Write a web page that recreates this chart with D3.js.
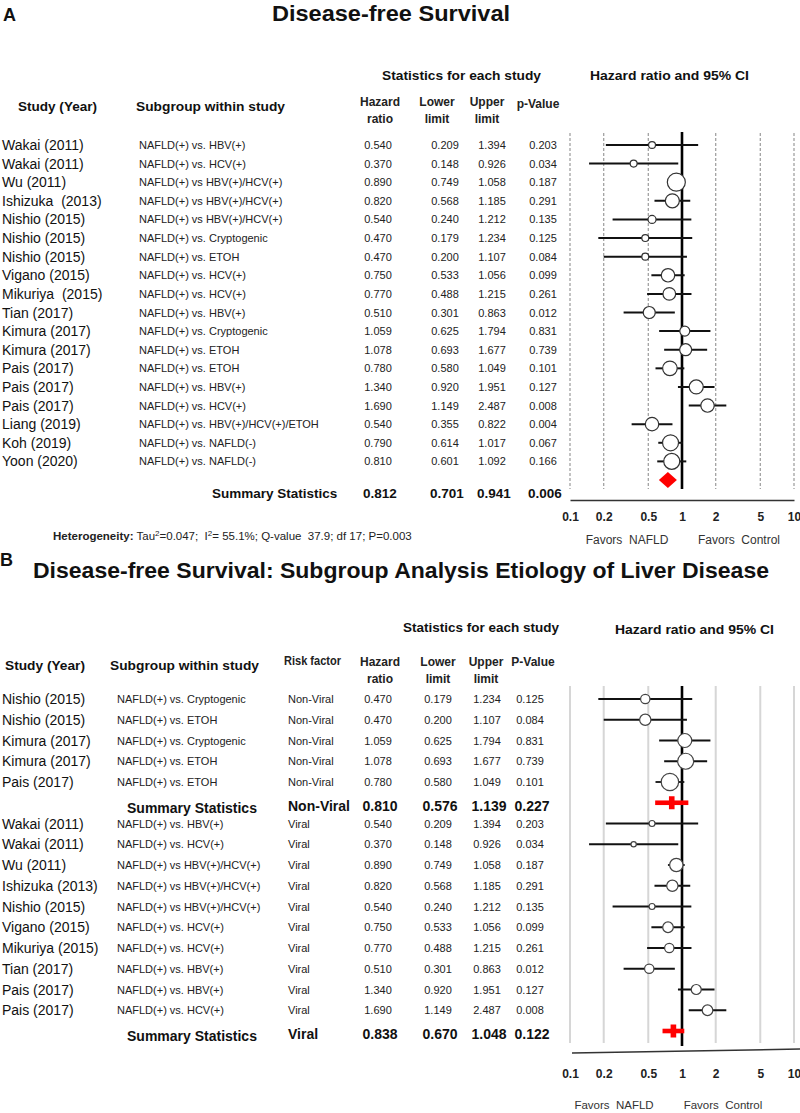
<!DOCTYPE html>
<html><head><meta charset="utf-8">
<script src="https://cdn.jsdelivr.net/npm/d3@7"></script>
<style>body{margin:0;background:#fff}text{white-space:pre}</style>
</head><body>
<svg id="chart" width="800" height="1113"></svg>
<script>
// ---------- Panel A data ----------
const studiesA = ["Wakai (2011)","Wakai (2011)","Wu (2011)","Ishizuka  (2013)","Nishio (2015)","Nishio (2015)","Nishio (2015)","Vigano (2015)","Mikuriya  (2015)","Tian (2017)","Kimura (2017)","Kimura (2017)","Pais (2017)","Pais (2017)","Pais (2017)","Liang (2019)","Koh (2019)","Yoon (2020)"];
const subgroupsA = ["NAFLD(+) vs. HBV(+)","NAFLD(+) vs. HCV(+)","NAFLD(+) vs HBV(+)/HCV(+)","NAFLD(+) vs HBV(+)/HCV(+)","NAFLD(+) vs HBV(+)/HCV(+)","NAFLD(+) vs. Cryptogenic","NAFLD(+) vs. ETOH","NAFLD(+) vs. HCV(+)","NAFLD(+) vs. HCV(+)","NAFLD(+) vs. HBV(+)","NAFLD(+) vs. Cryptogenic","NAFLD(+) vs. ETOH","NAFLD(+) vs. ETOH","NAFLD(+) vs. HBV(+)","NAFLD(+) vs. HCV(+)","NAFLD(+) vs. HBV(+)/HCV(+)/ETOH","NAFLD(+) vs. NAFLD(-)","NAFLD(+) vs. NAFLD(-)"];
const hrA    = [0.540,0.370,0.890,0.820,0.540,0.470,0.470,0.750,0.770,0.510,1.059,1.078,0.780,1.340,1.690,0.540,0.790,0.810];
const lowerA = [0.209,0.148,0.749,0.568,0.240,0.179,0.200,0.533,0.488,0.301,0.625,0.693,0.580,0.920,1.149,0.355,0.614,0.601];
const upperA = [1.394,0.926,1.058,1.185,1.212,1.234,1.107,1.056,1.215,0.863,1.794,1.677,1.049,1.951,2.487,0.822,1.017,1.092];
const pA     = [0.203,0.034,0.187,0.291,0.135,0.125,0.084,0.099,0.261,0.012,0.831,0.739,0.101,0.127,0.008,0.004,0.067,0.166];
const weightsA = [12,12,81,49,16,12,12,45,40,36,25,36,53,49,45,45,64,64];
const summaryA = [0.812,0.701,0.941,0.006]; // hr, lower, upper, p

// ---------- Panel B data ----------
const studiesB = ["Nishio (2015)","Nishio (2015)","Kimura (2017)","Kimura (2017)","Pais (2017)","Wakai (2011)","Wakai (2011)","Wu (2011)","Ishizuka (2013)","Nishio (2015)","Vigano (2015)","Mikuriya (2015)","Tian (2017)","Pais (2017)","Pais (2017)"];
const subgroupsB = ["NAFLD(+) vs. Cryptogenic","NAFLD(+) vs. ETOH","NAFLD(+) vs. Cryptogenic","NAFLD(+) vs. ETOH","NAFLD(+) vs. ETOH","NAFLD(+) vs. HBV(+)","NAFLD(+) vs. HCV(+)","NAFLD(+) vs HBV(+)/HCV(+)","NAFLD(+) vs HBV(+)/HCV(+)","NAFLD(+) vs HBV(+)/HCV(+)","NAFLD(+) vs. HCV(+)","NAFLD(+) vs. HCV(+)","NAFLD(+) vs. HBV(+)","NAFLD(+) vs. HBV(+)","NAFLD(+) vs. HCV(+)"];
const riskB = ["Non-Viral","Non-Viral","Non-Viral","Non-Viral","Non-Viral","Viral","Viral","Viral","Viral","Viral","Viral","Viral","Viral","Viral","Viral"];
const hrB    = [0.470,0.470,1.059,1.078,0.780,0.540,0.370,0.890,0.820,0.540,0.750,0.770,0.510,1.340,1.690];
const lowerB = [0.179,0.200,0.625,0.693,0.580,0.209,0.148,0.749,0.568,0.240,0.533,0.488,0.301,0.920,1.149];
const upperB = [1.234,1.107,1.794,1.677,1.049,1.394,0.926,1.058,1.185,1.212,1.056,1.215,0.863,1.951,2.487];
const pB     = [0.125,0.084,0.831,0.739,0.101,0.203,0.034,0.187,0.291,0.135,0.099,0.261,0.012,0.127,0.008];
const weightsB = [22,32,49,64,76,9,7,45,32,9,28,22,22,25,28];
const groupsB = ["Non-Viral","Viral"];
const summaryHrB = [0.810,0.838];
const summaryLoB = [0.576,0.670];
const summaryHiB = [1.139,1.048];
const summaryPB  = [0.227,0.122];

const tickValues = [0.1,0.2,0.5,1,2,5,10];
const favorsLabels = ["Favors  NAFLD","Favors  Control"];

// ---------- drawing ----------
const svg = d3.select("#chart");
const REG = "'Liberation Sans', Arial, sans-serif";
const NAR = "'Liberation Sans Narrow', 'Arial Narrow', 'Liberation Sans', Arial, sans-serif";
const f3 = d3.format(".3f");

function txt(g, x, y, s, o = {}) {
  const t = g.append("text").attr("x", x).attr("y", y).text(s)
    .attr("font-family", o.family || REG)
    .attr("font-size", o.size || 11)
    .attr("font-weight", o.weight || "normal")
    .attr("fill", o.fill || "#111")
    .attr("text-anchor", o.anchor || "start");
  if (o.len) t.attr("textLength", o.len).attr("lengthAdjust", "spacingAndGlyphs");
  return t;
}

const x = d3.scaleLog().domain([0.1, 10]).range([570, 794]);

// ===== Panel A =====
const gA = svg.append("g");
txt(gA, 3, 21, "A", {size: 18, weight: "bold", family: NAR});
txt(gA, 272, 21, "Disease-free Survival", {size: 22, weight: "bold", len: 238});
txt(gA, 382, 80, "Statistics for each study", {size: 13, weight: "bold", family: NAR, len: 159});
txt(gA, 590, 80, "Hazard ratio and 95% CI", {size: 13, weight: "bold", family: NAR, len: 159});
txt(gA, 18, 111, "Study (Year)", {size: 13, weight: "bold", family: NAR, len: 79});
txt(gA, 136, 111, "Subgroup within study", {size: 13, weight: "bold", family: NAR, len: 149});
const colA = [378, 445, 492, 543];
[["Hazard","ratio"],["Lower","limit"],["Upper","limit"]].forEach((h, i) => {
  const cx = [380, 437, 487][i];
  txt(gA, cx, 106, h[0], {size: 12, weight: "bold", family: NAR, anchor: "middle", fill: "#222"});
  txt(gA, cx, 123, h[1], {size: 12, weight: "bold", family: NAR, anchor: "middle", fill: "#222"});
});
txt(gA, 538, 108, "p-Value", {size: 12, weight: "bold", family: NAR, anchor: "middle", fill: "#222"});

const yA = d3.scalePoint().domain(d3.range(studiesA.length + 1)).range([145, 480]);
const rA = d3.scaleSqrt().domain([0, d3.max(weightsA)]).range([0, 9]);

// grid
gA.append("g").selectAll("line").data(tickValues.filter(d => d !== 1)).join("line")
  .attr("x1", d => x(d)).attr("x2", d => x(d)).attr("y1", 133).attr("y2", 489)
  .attr("stroke", "#9a9a9a").attr("stroke-width", 1.2).attr("stroke-dasharray", "3,2");
gA.append("line").attr("x1", x(1)).attr("x2", x(1)).attr("y1", 132).attr("y2", 489)
  .attr("stroke", "#000").attr("stroke-width", 2.6);

studiesA.forEach((s, i) => {
  const y = yA(i);
  txt(gA, 2, y + 5, s, {size: 14});
  txt(gA, 139, y + 4, subgroupsA[i], {size: 11, fill: "#222"});
  [hrA[i], lowerA[i], upperA[i], pA[i]].forEach((v, j) =>
    txt(gA, colA[j], y + 4, f3(v), {size: 11, anchor: "middle", fill: "#222"}));
});
gA.append("g").selectAll("line").data(studiesA).join("line")
  .attr("x1", (d, i) => x(lowerA[i])).attr("x2", (d, i) => x(upperA[i]))
  .attr("y1", (d, i) => yA(i)).attr("y2", (d, i) => yA(i))
  .attr("stroke", "#111").attr("stroke-width", 2);
gA.append("g").selectAll("circle").data(studiesA).join("circle")
  .attr("cx", (d, i) => x(hrA[i])).attr("cy", (d, i) => yA(i))
  .attr("r", (d, i) => rA(weightsA[i]))
  .attr("fill", "#fff").attr("stroke", "#333").attr("stroke-width", 1.2);

// summary A
const ySA = yA(studiesA.length);
txt(gA, 212, ySA + 18, "Summary Statistics", {size: 13.5, weight: "bold"});
summaryA.forEach((v, j) => txt(gA, colA[j] + 2, ySA + 18, f3(v), {size: 13.5, weight: "bold", anchor: "middle"}));
const cxs = x(summaryA[0]) - 4;
gA.append("path")
  .attr("d", `M${cxs - 9},${ySA} L${cxs},${ySA - 8} L${cxs + 9},${ySA} L${cxs},${ySA + 8} Z`)
  .attr("fill", "#f00");

// axis A
const axA = gA.append("g").attr("transform", "translate(0,500)")
  .call(d3.axisBottom(x).tickValues(tickValues).tickSize(0).tickSizeOuter(0).tickPadding(12)
    .tickFormat(d => String(d)));
axA.select(".domain").attr("stroke", "#333").attr("stroke-width", 1.5);
axA.selectAll("text").attr("font-family", REG).attr("font-size", 12).attr("font-weight", "bold").attr("fill", "#222");
txt(gA, 627, 544, favorsLabels[0], {size: 12, anchor: "middle", fill: "#333"});
txt(gA, 739, 544, favorsLabels[1], {size: 12, anchor: "middle", fill: "#333"});

const het = txt(gA, 53, 540, "", {size: 11.5, fill: "#222"});
het.append("tspan").attr("font-weight", "bold").text("Heterogeneity:");
het.append("tspan").text(" Tau");
het.append("tspan").attr("baseline-shift", "super").attr("font-size", 8).text("2");
het.append("tspan").text("=0.047;  I");
het.append("tspan").attr("baseline-shift", "super").attr("font-size", 8).text("2");
het.append("tspan").text("= 55.1%; Q-value  37.9; df 17; P=0.003");

// ===== Panel B =====
const gB = svg.append("g");
txt(gB, 0, 566, "B", {size: 18, weight: "bold", family: NAR});
txt(gB, 33, 578, "Disease-free Survival: Subgroup Analysis Etiology of Liver Disease", {size: 22, weight: "bold", len: 736});
txt(gB, 403, 632, "Statistics for each study", {size: 13, weight: "bold", family: NAR, len: 156});
txt(gB, 615, 634, "Hazard ratio and 95% CI", {size: 13, weight: "bold", family: NAR, len: 159});
txt(gB, 5, 670, "Study (Year)", {size: 13, weight: "bold", family: NAR, len: 80});
txt(gB, 110, 670, "Subgroup within study", {size: 13, weight: "bold", family: NAR, len: 149});
txt(gB, 284, 665, "Risk factor", {size: 12, weight: "bold", family: NAR, fill: "#222", len: 57});
[["Hazard","ratio"],["Lower","limit"],["Upper","limit"]].forEach((h, i) => {
  const cx = [380, 438, 486][i];
  txt(gB, cx, 666, h[0], {size: 12, weight: "bold", family: NAR, anchor: "middle", fill: "#222"});
  txt(gB, cx, 683, h[1], {size: 12, weight: "bold", family: NAR, anchor: "middle", fill: "#222"});
});
txt(gB, 533, 666, "P-Value", {size: 12, weight: "bold", family: NAR, anchor: "middle", fill: "#222"});

// rows layout: studies of each group followed by its summary row
const rowsB = [];
groupsB.forEach((g, gi) => {
  riskB.forEach((r, i) => { if (r === g) rowsB.push({type: "study", i}); });
  rowsB.push({type: "summary", gi});
});
const yB = d3.scalePoint().domain(d3.range(rowsB.length)).range([699, 1031]);
const rB = d3.scaleSqrt().domain([0, d3.max(weightsB)]).range([0, 8.7]);
const colB = [378, 438, 487, 530];

gB.append("g").selectAll("line").data(tickValues.filter(d => d !== 1)).join("line")
  .attr("x1", d => x(d)).attr("x2", d => x(d)).attr("y1", 686).attr("y2", 1043)
  .attr("stroke", "#d6d6d6").attr("stroke-width", 2);
gB.append("line").attr("x1", x(1)).attr("x2", x(1)).attr("y1", 686).attr("y2", 1046)
  .attr("stroke", "#000").attr("stroke-width", 2.6);

rowsB.forEach((row, k) => {
  const y = yB(k);
  if (row.type === "study") {
    const i = row.i;
    txt(gB, 2, y + 5, studiesB[i], {size: 14});
    txt(gB, 117, y + 4, subgroupsB[i], {size: 11, fill: "#222"});
    txt(gB, 288, y + 4, riskB[i], {size: 11, fill: "#222"});
    [hrB[i], lowerB[i], upperB[i], pB[i]].forEach((v, j) =>
      txt(gB, colB[j], y + 4, f3(v), {size: 11, anchor: "middle", fill: "#222"}));
    gB.append("line").attr("x1", x(lowerB[i])).attr("x2", x(upperB[i])).attr("y1", y).attr("y2", y)
      .attr("stroke", "#111").attr("stroke-width", 1.8);
    gB.append("circle").attr("cx", x(hrB[i])).attr("cy", y).attr("r", rB(weightsB[i]))
      .attr("fill", "#fff").attr("stroke", "#444").attr("stroke-width", 1.2);
  } else {
    const gi = row.gi;
    txt(gB, 127, y + 10, "Summary Statistics", {size: 14, weight: "bold"});
    txt(gB, 288, y + 8, groupsB[gi], {size: 14, weight: "bold"});
    [summaryHrB[gi], summaryLoB[gi], summaryHiB[gi], summaryPB[gi]].forEach((v, j) =>
      txt(gB, colB[j] + 2, y + 8, f3(v), {size: 14, weight: "bold", anchor: "middle"}));
    gB.append("rect").attr("x", x(summaryLoB[gi])).attr("y", y - 2.3)
      .attr("width", x(summaryHiB[gi]) - x(summaryLoB[gi])).attr("height", 4.6).attr("fill", "#f00");
    gB.append("rect").attr("x", x(summaryHrB[gi]) - 2.8).attr("y", y - 6.5)
      .attr("width", 5.6).attr("height", 13).attr("fill", "#f00");
  }
});

const axB = gB.append("g").attr("transform", "translate(0,1051)")
  .call(d3.axisBottom(x).tickValues(tickValues).tickSize(0).tickSizeOuter(0).tickPadding(18)
    .tickFormat(d => String(d)));
axB.select(".domain").remove();
gB.append("line").attr("x1", x(0.1) + 2).attr("x2", 800).attr("y1", 1053).attr("y2", 1049)
  .attr("stroke", "#333").attr("stroke-width", 1.5);
axB.selectAll("text").attr("font-family", REG).attr("font-size", 12).attr("font-weight", "bold").attr("fill", "#222");
txt(gB, 614, 1109, favorsLabels[0], {size: 11.5, anchor: "middle", fill: "#333"});
txt(gB, 723, 1109, favorsLabels[1], {size: 11.5, anchor: "middle", fill: "#333"});
</script>
</body></html>
